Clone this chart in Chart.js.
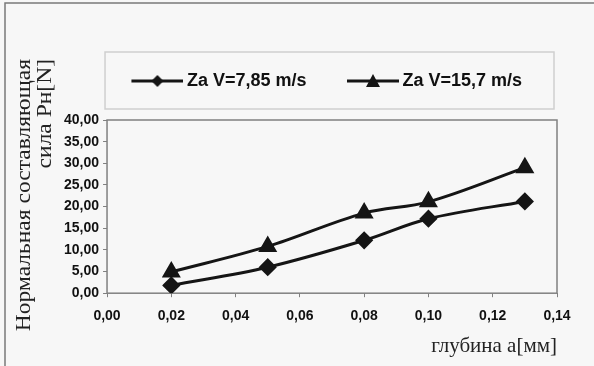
<!DOCTYPE html>
<html>
<head>
<meta charset="utf-8">
<script src="https://cdn.jsdelivr.net/npm/chart.js@4/dist/chart.umd.min.js"></script>
<style>
  body { margin: 0; background: #f7f7f7; }
  #wrap { width: 594px; height: 366px; }
</style>
</head>
<body>
<div id="wrap"><canvas id="myChart" width="594" height="366"></canvas></div>
<script>
// values
var depth = [0.02, 0.05, 0.08, 0.10, 0.13];
var force785 = [1.8, 6.0, 12.2, 17.2, 21.2];
var force157 = [4.9, 10.8, 18.5, 21.1, 29.0];
var seriesNames = ["Za V=7,85 m/s", "Za V=15,7 m/s"];
var yTitle = ["Нормальная составляющая", "сила Pн[N]"];
var xTitle = "глубина а[мм]";

var ink = "#151515";

function toPoints(xs, ys) {
  return xs.map(function (x, i) { return { x: x, y: ys[i] }; });
}

// legend picture: line with the marker in the middle,
// shifted right inside the canvas so the items sit like the original
function legendIcon(kind) {
  var c = document.createElement("canvas");
  c.width = 94;
  c.height = 18;
  var g = c.getContext("2d");
  g.strokeStyle = ink;
  g.fillStyle = ink;
  g.lineWidth = 3;
  g.beginPath();
  g.moveTo(42, 9);
  g.lineTo(94, 9);
  g.stroke();
  g.beginPath();
  if (kind === "diamond") {
    g.moveTo(68, 3); g.lineTo(74, 9); g.lineTo(68, 15); g.lineTo(62, 9);
  } else {
    g.moveTo(68, 2); g.lineTo(75, 15); g.lineTo(61, 15);
  }
  g.closePath();
  g.fill();
  return c;
}
var icons = [legendIcon("diamond"), legendIcon("triangle")];

var frames = {
  id: "frames",
  beforeDraw: function (chart) {
    var ctx = chart.ctx, a = chart.chartArea;
    ctx.save();
    ctx.fillStyle = "#f7f7f7";
    ctx.fillRect(0, 0, chart.width, chart.height);
    // outer border (top and left only)
    ctx.strokeStyle = "#7a7a7a";
    ctx.lineWidth = 1.5;
    ctx.beginPath();
    ctx.moveTo(5, chart.height);
    ctx.lineTo(5, 3);
    ctx.lineTo(chart.width, 3);
    ctx.stroke();
    // legend box
    ctx.strokeStyle = "#cfcfcf";
    ctx.lineWidth = 1.5;
    ctx.strokeRect(a.left - 2, a.top - 68, a.right - a.left - 1, 57);
    // plot frame
    ctx.strokeStyle = "#808080";
    ctx.lineWidth = 1.5;
    ctx.strokeRect(a.left, a.top, a.right - a.left, a.bottom - a.top);
    ctx.restore();
  },
  afterDraw: function (chart) {
    // y axis title: two lines, right aligned at the top
    var ctx = chart.ctx, a = chart.chartArea;
    ctx.save();
    ctx.fillStyle = "#222";
    ctx.font = '21px "Liberation Serif"';
    ctx.textAlign = "right";
    ctx.textBaseline = "middle";
    ctx.translate(a.left - 83, a.top - 61);
    ctx.rotate(-Math.PI / 2);
    ctx.scale(1.12, 1);
    ctx.fillText(yTitle[0], 0, 0);
    ctx.fillText(yTitle[1], 0, 21);
    ctx.restore();
  }
};

new Chart("myChart", {
  type: "line",
  data: {
    datasets: [{
      label: seriesNames[0],
      data: toPoints(depth, force785),
      borderColor: ink,
      backgroundColor: ink,
      borderWidth: 3,
      pointStyle: "rectRot",
      pointRadius: 7,
      pointHoverRadius: 7,
      tension: 0.35
    }, {
      label: seriesNames[1],
      data: toPoints(depth, force157),
      borderColor: ink,
      backgroundColor: ink,
      borderWidth: 3,
      pointStyle: "triangle",
      pointRadius: 8,
      pointHoverRadius: 8,
      tension: 0.35
    }]
  },
  options: {
    responsive: false,
    animation: false,
    layout: { padding: { left: 60, right: 37, top: 68, bottom: 9 } },
    plugins: {
      tooltip: { enabled: false },
      legend: {
        position: "top",
        labels: {
          usePointStyle: true,
          pointStyleWidth: 83,
          padding: 4,
          color: "#111",
          font: { family: '"Liberation Sans"', size: 18, weight: "bold" },
          generateLabels: function (chart) {
            return chart.data.datasets.map(function (ds, i) {
              return {
                text: ds.label, pointStyle: icons[i], fillStyle: ink,
                strokeStyle: ink, lineWidth: 0, hidden: false, datasetIndex: i, fontColor: "#111"
              };
            });
          }
        }
      },
      // empty spacer between the legend and the plot
      subtitle: {
        display: true,
        text: "",
        position: "top",
        weight: 500,
        font: { size: 10, lineHeight: 1 },
        padding: { top: 0, bottom: 10 }
      }
    },
    scales: {
      x: {
        type: "linear",
        min: 0,
        max: 0.14,
        border: { display: false },
        grid: { drawOnChartArea: false, tickLength: 4, color: "#808080" },
        ticks: {
          stepSize: 0.02,
          padding: 11,
          color: "#111",
          font: { family: '"Liberation Sans"', size: 14, weight: "bold" },
          callback: function (value) { return value.toFixed(2).replace(".", ","); }
        },
        title: {
          display: true,
          text: xTitle,
          align: "end",
          color: "#222",
          font: { family: '"Liberation Serif"', size: 21, lineHeight: 1 },
          padding: { top: 0, bottom: 0 }
        }
      },
      y: {
        min: 0,
        max: 40,
        border: { display: false },
        grid: { drawOnChartArea: false, tickLength: 4, color: "#808080" },
        ticks: {
          stepSize: 5,
          padding: 4,
          color: "#111",
          font: { family: '"Liberation Sans"', size: 14, weight: "bold" },
          callback: function (value) { return value.toFixed(2).replace(".", ","); }
        }
      }
    }
  },
  plugins: [frames]
});
</script>
</body>
</html>
